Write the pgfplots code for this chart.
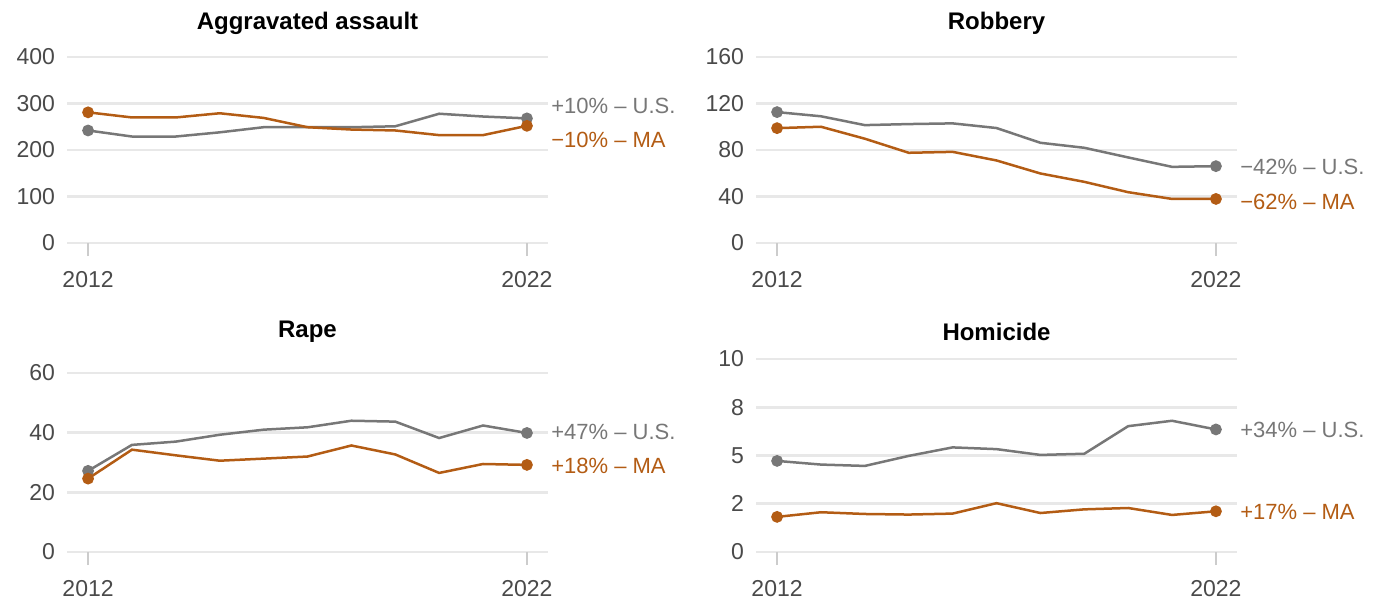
\documentclass[border=0pt]{standalone}
\usepackage{pgfplots}
\usepackage{pgfplotstable}
\pgfplotsset{compat=1.18}
\usepackage{fontspec}
\setmainfont{Liberation Sans}
\definecolor{usgray}{HTML}{777777}
\definecolor{maorange}{HTML}{B35C14}
\definecolor{gridc}{HTML}{E8E8E8}
\definecolor{tickc}{HTML}{CCCCCC}
\definecolor{labc}{HTML}{4A4A4A}

\pgfplotstableread{
year us ma
2012 242 281
2013 229 270
2014 229 270
2015 238 279
2016 249 269
2017 249 249
2018 249 244
2019 251 242
2020 278 232
2021 272 232
2022 268 252
}\aggtab
\pgfplotstableread{
year us ma
2012 112.6 98.8
2013 109.0 100.0
2014 101.4 89.7
2015 102.3 77.6
2016 102.9 78.4
2017 98.9 71.0
2018 86.2 59.8
2019 81.9 52.6
2020 73.6 43.7
2021 65.5 37.9
2022 66.1 37.9
}\robtab
\pgfplotstableread{
year us ma
2012 27.2 24.6
2013 35.9 34.3
2014 37.0 32.4
2015 39.3 30.6
2016 41.0 31.3
2017 41.8 32.0
2018 44.0 35.7
2019 43.7 32.7
2020 38.2 26.5
2021 42.4 29.5
2022 39.9 29.2
}\rapetab
\pgfplotstableread{
year us ma
2012 4.72 1.82
2013 4.53 2.06
2014 4.46 1.97
2015 4.98 1.94
2016 5.42 1.99
2017 5.33 2.53
2018 5.03 2.02
2019 5.09 2.21
2020 6.52 2.28
2021 6.80 1.92
2022 6.35 2.11
}\homtab

\pgfplotsset{
  panel/.style={
    scale only axis,
    width=240.5pt,
    clip=false,
    anchor=south west,
    xmin=2011.52, xmax=2022.48,
    ymin=0,
    xtick={2012,2022},
    xticklabels={2012,2022},
    axis line style={draw=none},
    ymajorgrids,
    grid style={gridc, line width=1.3pt},
    xtick pos=bottom,
    ytick pos=left,
    ytick style={draw=none},
    xtick style={tickc, line width=1pt},
    tick align=outside,
    major tick length=6.5pt,
    tick label style={font=\fontsize{11.5}{13}\selectfont, text=labc},
    yticklabel style={xshift=4pt},
    xticklabel style={yshift=-4pt},
    /pgf/number format/assume math mode=true,
    /pgf/number format/1000 sep={},
    title style={font=\fontsize{12}{14}\selectfont\bfseries, at={(0.5,1)}, anchor=center},
  },
  usline/.style={usgray, line width=1.25pt, mark=*, mark size=2.3pt, mark indices={1,11}, mark options={solid, fill=usgray, draw=usgray}},
  maline/.style={maorange, line width=1.25pt, mark=*, mark size=2.3pt, mark indices={1,11}, mark options={solid, fill=maorange, draw=maorange}},
}
\tikzset{lab/.style={anchor=west, inner sep=0pt, xshift=12pt, font=\fontsize{11}{13}\selectfont}}

\begin{document}
\begin{tikzpicture}
\useasboundingbox (0,0) rectangle (689.5pt,300pt);

\begin{axis}[panel, at={(33.5pt,178.5pt)}, height=93pt, ymax=400, ytick={0,100,200,300,400},
  title={Aggravated assault}, title style={yshift=11pt}]
\addplot[usline] table[x=year,y=us] {\aggtab};
\addplot[maline] table[x=year,y=ma] {\aggtab};
\node[lab, text=usgray] at (axis cs:2022,294.6) {+10\% – U.S.};
\node[lab, text=maorange] at (axis cs:2022,221.5) {−10\% – MA};
\end{axis}

\begin{axis}[panel, at={(378pt,178.5pt)}, height=93pt, ymax=160, ytick={0,40,80,120,160},
  title={Robbery}, title style={yshift=11pt}]
\addplot[usline] table[x=year,y=us] {\robtab};
\addplot[maline] table[x=year,y=ma] {\robtab};
\node[lab, text=usgray] at (axis cs:2022,65.4) {−42\% – U.S.};
\node[lab, text=maorange] at (axis cs:2022,35.3) {−62\% – MA};
\end{axis}

\begin{axis}[panel, at={(33.5pt,24pt)}, height=89.5pt, ymax=60, ytick={0,20,40,60},
  title={Rape}, title style={yshift=14.5pt}]
\addplot[usline] table[x=year,y=us] {\rapetab};
\addplot[maline] table[x=year,y=ma] {\rapetab};
\node[lab, text=usgray] at (axis cs:2022,40.2) {+47\% – U.S.};
\node[lab, text=maorange] at (axis cs:2022,28.8) {+18\% – MA};
\end{axis}

\begin{axis}[panel, at={(378pt,24pt)}, height=96.5pt, ymax=10, ytick={0,2.5,5,7.5,10},
  yticklabels={0,2,5,8,10},
  title={Homicide}, title style={yshift=7.5pt}]
\addplot[usline] table[x=year,y=us] {\homtab};
\addplot[maline] table[x=year,y=ma] {\homtab};
\node[lab, text=usgray] at (axis cs:2022,6.32) {+34\% – U.S.};
\node[lab, text=maorange] at (axis cs:2022,2.07) {+17\% – MA};
\end{axis}
\end{tikzpicture}
\end{document}
